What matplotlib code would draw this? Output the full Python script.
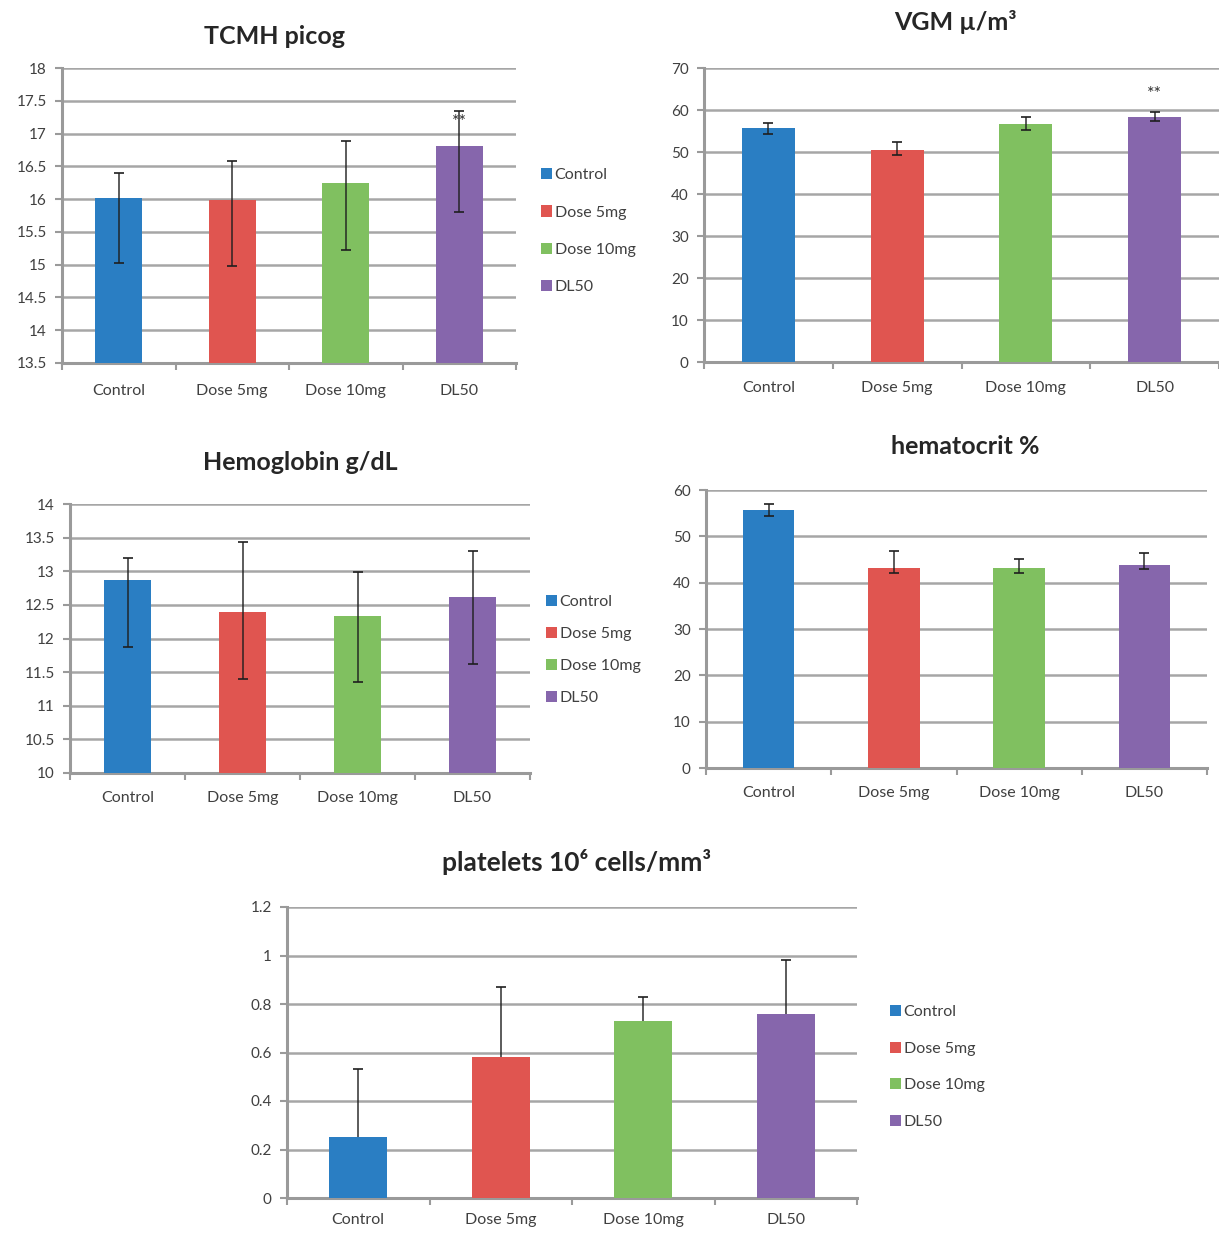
import matplotlib
matplotlib.use("Agg")
import matplotlib.pyplot as plt
from matplotlib.patches import Patch
import numpy as np

plt.rcParams['font.family'] = ['Lato', 'DejaVu Sans']

groups = ["Control", "Dose 5mg", "Dose 10mg", "DL50"]
colors = ["#2A7EC3", "#E05550", "#80C060", "#8666AC"]

# TCMH (picog): mean, upper and lower limits of the error bars
tcmh = [16.02, 15.99, 16.25, 16.81]
tcmh_hi = [16.40, 16.58, 16.88, 17.35]
tcmh_lo = [15.02, 14.98, 15.22, 15.80]

# VGM (µ/m³)
vgm = [55.8, 50.5, 56.6, 58.3]
vgm_hi = [56.9, 52.5, 58.3, 59.6]
vgm_lo = [54.3, 49.3, 55.3, 57.3]

# Hemoglobin (g/dL)
hb = [12.87, 12.39, 12.34, 12.62]
hb_hi = [13.20, 13.43, 12.99, 13.30]
hb_lo = [11.87, 11.40, 11.35, 11.62]

# Hematocrit (%)
hct = [55.7, 43.1, 43.1, 43.9]
hct_hi = [56.9, 46.8, 45.2, 46.5]
hct_lo = [54.4, 42.0, 42.1, 42.9]

# Platelets (10^6 cells/mm³), upper error bars only
plt_mean = [0.25, 0.58, 0.73, 0.76]
plt_hi = [0.53, 0.87, 0.83, 0.98]

W, H = 1219, 1234
fig = plt.figure(figsize=(W / 100, H / 100), dpi=100)
fig.patch.set_facecolor("white")

GRID = "#A6A6A6"
TXT = "#404040"
ERR = "#1E1E1E"


def px_axes(x0, y0, x1, y1):
    return fig.add_axes([x0 / W, 1 - y1 / H, (x1 - x0) / W, (y1 - y0) / H])


def bar_panel(ax, means, hi, lo, ylim, yticks, xpad=14, stars=None, star_y=None):
    x = np.arange(len(groups))
    ax.bar(x, [m - ylim[0] for m in means], bottom=ylim[0], width=0.41,
           color=colors, zorder=3)
    if lo is None:
        # one-sided (plus) error bars: stem from bar top, cap at the upper end
        ax.vlines(x, means, hi, color=ERR, linewidth=1.2, alpha=0.85, zorder=4)
        ax.hlines(hi, x - 0.035, x + 0.035, color=ERR, linewidth=1.4,
                  alpha=0.85, zorder=4)
    else:
        up = [h - m for h, m in zip(hi, means)]
        down = [m - l for m, l in zip(means, lo)]
        ax.errorbar(x, means, yerr=[down, up], fmt="none", ecolor=ERR,
                    elinewidth=1.2, capsize=3.5, capthick=1.4, zorder=4,
                    alpha=0.85)
    ax.set_xlim(-0.5, len(groups) - 0.5)
    ax.set_ylim(*ylim)
    ax.set_yticks(yticks)
    ax.set_yticklabels([f"{t:g}" for t in np.round(yticks, 1)])
    ax.yaxis.grid(True, color=GRID, linewidth=1.8, zorder=0)
    ax.set_axisbelow(True)
    for s in ("top", "right"):
        ax.spines[s].set_visible(False)
    for s in ("left", "bottom"):
        ax.spines[s].set_color("#9A9A9A")
        ax.spines[s].set_linewidth(2.2)
    ax.set_xticks(x)
    ax.set_xticklabels(groups)
    ax.set_xticks(np.arange(-0.5, len(groups)), minor=True)
    ax.tick_params(axis="x", which="major", length=0, labelsize=11.5,
                   labelcolor=TXT, pad=xpad)
    ax.tick_params(axis="x", which="minor", length=5, width=1.5,
                   color="#9A9A9A", direction="out")
    ax.tick_params(axis="y", length=5, width=1.5, color="#9A9A9A",
                   labelsize=11, labelcolor=TXT, pad=6)
    if stars is not None:
        ax.text(stars, star_y, "**", ha="center", va="center",
                fontsize=13, color="#303030", zorder=5)


def legend_at(x, y, spacing):
    handles = [Patch(facecolor=c, edgecolor="none") for c in colors]
    fig.legend(handles, groups, loc="upper left",
               bbox_to_anchor=(x / W, 1 - y / H), frameon=False,
               handlelength=0.7, handleheight=0.7, handletextpad=0.15,
               labelspacing=spacing, fontsize=11.5, labelcolor=TXT,
               borderaxespad=0, borderpad=0)


def title_at(x, y, text, size=18):
    fig.text(x / W, 1 - y / H, text, ha="center", va="center",
             fontsize=size, fontweight="bold", color="#262626")


# TCMH
ax1 = px_axes(62, 68, 516, 363)
bar_panel(ax1, tcmh, tcmh_hi, tcmh_lo, (13.5, 18),
          np.arange(13.5, 18.01, 0.5), xpad=15, stars=3, star_y=17.18)
title_at(275, 37, "TCMH picog")
legend_at(541, 168, 1.45)

# VGM
ax2 = px_axes(704, 68, 1219, 362)
bar_panel(ax2, vgm, vgm_hi, vgm_lo, (0, 70), np.arange(0, 71, 10),
          xpad=14, stars=3, star_y=63.8)
title_at(955, 22, "VGM µ/m³")

# Hemoglobin
ax3 = px_axes(70, 504, 530, 773)
bar_panel(ax3, hb, hb_hi, hb_lo, (10, 14), np.arange(10, 14.01, 0.5), xpad=13)
title_at(300, 463, "Hemoglobin g/dL")
legend_at(546, 595, 1.12)

# Hematocrit
ax4 = px_axes(706, 490, 1207, 768)
bar_panel(ax4, hct, hct_hi, hct_lo, (0, 60), np.arange(0, 61, 10), xpad=13)
title_at(965, 447, "hematocrit %")

# Platelets
ax5 = px_axes(287, 907, 857, 1198)
bar_panel(ax5, plt_mean, plt_hi, None, (0, 1.2), np.arange(0, 1.21, 0.2),
          xpad=11)
title_at(577, 862, "platelets 10⁶ cells/mm³", size=19)
legend_at(890, 1005, 1.4)

fig.savefig("out.png", dpi=100, facecolor="white")
